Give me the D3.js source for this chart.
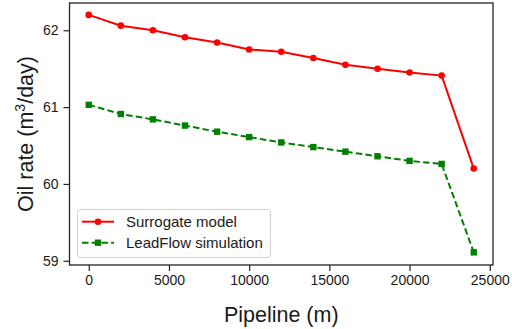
<!DOCTYPE html>
<html><head><meta charset="utf-8">
<script src="https://cdn.jsdelivr.net/npm/d3@7"></script>
<style>body{margin:0;background:#fff}svg{display:block}text{font-family:"Liberation Sans",Arial,sans-serif;fill:#1a1a1a}</style>
</head><body><svg id="c" width="512" height="329"></svg>
<script>
const pipeline = [0,2000,4000,6000,8000,10000,12000,14000,16000,18000,20000,22000,24000];
const surrogate = [62.20,62.06,62.00,61.91,61.84,61.75,61.72,61.64,61.55,61.50,61.45,61.41,60.20];
const leadflow = [61.03,60.91,60.84,60.76,60.68,60.61,60.54,60.48,60.42,60.36,60.30,60.26,59.11];
const xTicks = [0,5000,10000,15000,20000,25000];
const yTicks = [59,60,61,62];
const seriesNames = ["Surrogate model","LeadFlow simulation"];

const svg = d3.select("#c");
const L=69.5, R=493, T=3, B=265;
const x = d3.scaleLinear().domain([-1200,25200]).range([L,R]);
const y = d3.scaleLinear().domain([58.945,62.355]).range([B,T]);

// axes
const gx = svg.append("g").attr("transform",`translate(0,${B})`)
  .call(d3.axisBottom(x).tickValues(xTicks).tickSize(6).tickPadding(4).tickFormat(d3.format("d")));
const gy = svg.append("g").attr("transform",`translate(${L},0)`)
  .call(d3.axisLeft(y).tickValues(yTicks).tickSize(6).tickPadding(5).tickFormat(d3.format("d")));
[gx,gy].forEach(g=>{
  g.select(".domain").remove();
  g.selectAll(".tick line").attr("stroke","#222").attr("stroke-width",1.2);
  g.selectAll(".tick text").attr("font-size",14).attr("fill","#1a1a1a").style("font-family",'"Liberation Sans",Arial,sans-serif');
});
svg.append("rect").attr("x",L).attr("y",T).attr("width",R-L).attr("height",B-T)
  .attr("fill","none").attr("stroke","#222").attr("stroke-width",1.3);

const line = d3.line().x((d,i)=>x(pipeline[i])).y(d=>y(d));
// surrogate
svg.append("path").datum(surrogate).attr("d",line).attr("fill","none").attr("stroke","#ff0000").attr("stroke-width",2);
svg.selectAll(".rc").data(surrogate).enter().append("circle")
  .attr("cx",(d,i)=>x(pipeline[i])).attr("cy",d=>y(d)).attr("r",3.3).attr("fill","#ff0000");
// leadflow
svg.append("path").datum(leadflow).attr("d",line).attr("fill","none").attr("stroke","#008000").attr("stroke-width",2).attr("stroke-dasharray","6.5,3.2");
svg.selectAll(".gs").data(leadflow).enter().append("rect")
  .attr("x",(d,i)=>x(pipeline[i])-3.2).attr("y",d=>y(d)-3.2).attr("width",6.4).attr("height",6.4).attr("fill","#008000");

// legend
const lg = svg.append("g");
lg.append("rect").attr("x",77.5).attr("y",209.5).attr("width",193).attr("height",48).attr("rx",3)
  .attr("fill","#fff").attr("fill-opacity",0.8).attr("stroke","#d0d0d0").attr("stroke-width",1);
const rows=[{c:"#ff0000",dash:null,m:"c"},{c:"#008000",dash:"6.5,3.2",m:"s"}];
rows.forEach((r,i)=>{
  const yy = 221.7 + i*21;
  lg.append("line").attr("x1",82).attr("x2",114).attr("y1",yy).attr("y2",yy)
    .attr("stroke",r.c).attr("stroke-width",2).attr("stroke-dasharray",r.dash);
  if(r.m==="c") lg.append("circle").attr("cx",98).attr("cy",yy).attr("r",3.3).attr("fill",r.c);
  else lg.append("rect").attr("x",94.8).attr("y",yy-3.2).attr("width",6.4).attr("height",6.4).attr("fill",r.c);
  lg.append("text").attr("x",126).attr("y",yy).attr("dy","0.36em").attr("font-size",15).text(seriesNames[i]);
});

// axis labels
svg.append("text").attr("x",(L+R)/2).attr("y",322).attr("text-anchor","middle").attr("font-size",21.5).text("Pipeline (m)");
const yl = svg.append("text").attr("transform",`translate(33,${(T+B)/2}) rotate(-90)`).attr("text-anchor","middle").attr("font-size",21.5);
yl.append("tspan").text("Oil rate (m");
yl.append("tspan").attr("font-size",14).attr("dy",-8).text("3");
yl.append("tspan").attr("dy",8).text("/day)");
</script></body></html>
